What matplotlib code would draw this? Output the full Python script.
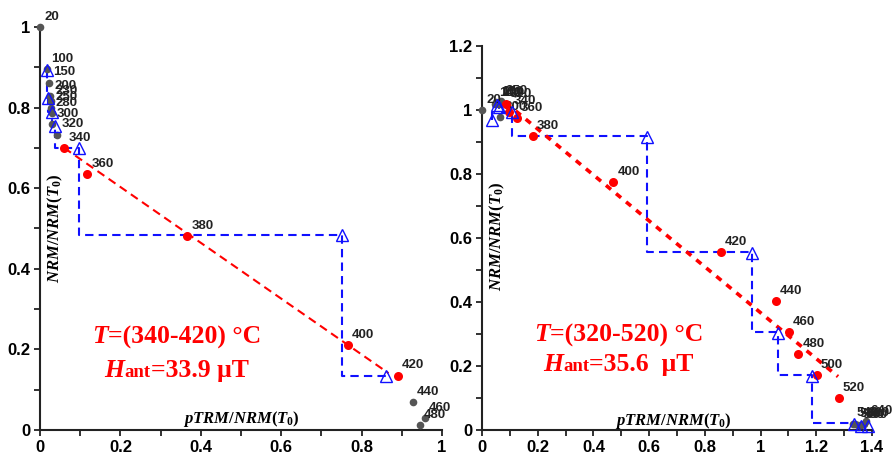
import matplotlib
matplotlib.use("Agg")
import matplotlib.pyplot as plt
from matplotlib.offsetbox import TextArea, HPacker, AnnotationBbox
from matplotlib.ticker import MultipleLocator, FuncFormatter

plt.rcParams['mathtext.fontset'] = 'custom'
plt.rcParams['mathtext.it'] = 'Liberation Serif:italic:bold'
plt.rcParams['mathtext.rm'] = 'Liberation Serif:bold'
plt.rcParams['mathtext.bf'] = 'Liberation Serif:bold'

# ---- Sample A (340-420 °C fit) ----
a_gray_T = [20, 100, 150, 200, 230, 250, 280, 300, 320, 440, 460, 480]
a_gray_x = [0.0, 0.017, 0.022, 0.026, 0.027, 0.028, 0.029, 0.031, 0.043, 0.928, 0.957, 0.945]
a_gray_y = [1.0, 0.895, 0.862, 0.829, 0.816, 0.800, 0.787, 0.760, 0.733, 0.069, 0.030, 0.012]
a_fit_T = [340, 360, 380, 400, 420]
a_fit_x = [0.060, 0.118, 0.366, 0.765, 0.890]
a_fit_y = [0.700, 0.635, 0.482, 0.211, 0.135]
a_chk_x = [0.017, 0.021, 0.029, 0.0375, 0.097, 0.750, 0.860]
a_chk_y = [0.893, 0.823, 0.790, 0.754, 0.699, 0.484, 0.134]
a_step_x = [0.017, 0.017, 0.021, 0.021, 0.029, 0.029, 0.0375, 0.0375, 0.097, 0.097, 0.750, 0.750, 0.860]
a_step_y = [0.893, 0.823, 0.823, 0.790, 0.790, 0.754, 0.754, 0.700, 0.700, 0.484, 0.484, 0.134, 0.134]
a_line_x = [0.060, 0.867]
a_line_y = [0.700, 0.141]

# ---- Sample B (320-520 °C fit) ----
b_gray_T = [20, 100, 150, 200, 250, 300, 540, 560, 580, 600, 620, 640]
b_gray_x = [0.0, 0.045, 0.052, 0.060, 0.068, 0.065, 1.330, 1.340, 1.350, 1.360, 1.370, 1.378]
b_gray_y = [1.0, 1.020, 1.025, 1.020, 1.028, 0.977, 0.020, 0.018, 0.015, 0.015, 0.020, 0.028]
b_fit_T = [320, 340, 360, 380, 400, 420, 440, 460, 480, 500, 520]
b_fit_x = [0.085, 0.097, 0.124, 0.182, 0.471, 0.858, 1.055, 1.101, 1.135, 1.201, 1.281]
b_fit_y = [1.019, 0.995, 0.974, 0.919, 0.774, 0.555, 0.403, 0.305, 0.236, 0.172, 0.099]
b_chk_x = [0.035, 0.053, 0.060, 0.107, 0.593, 0.968, 1.064, 1.183, 1.335, 1.360, 1.385]
b_chk_y = [0.970, 1.016, 1.010, 0.995, 0.917, 0.552, 0.302, 0.170, 0.018, 0.014, 0.014]
b_step_x = [0.035, 0.035, 0.060, 0.060, 0.107, 0.107, 0.593, 0.593, 0.968, 0.968, 1.064, 1.064, 1.183, 1.183, 1.335]
b_step_y = [0.970, 1.010, 1.010, 0.995, 0.995, 0.919, 0.919, 0.555, 0.555, 0.305, 0.305, 0.172, 0.172, 0.022, 0.022]
b_line_x = [0.085, 1.278]
b_line_y = [1.023, 0.167]

GRAY = '#555555'
RED = '#ff0000'
BLUE = '#1010ff'
SERIF = 'Liberation Serif'
SANS = 'Liberation Sans'

fig = plt.figure(figsize=(8.93, 4.55), dpi=100)
axA = fig.add_axes([40 / 893, 1 - 430 / 455, 402 / 893, 403 / 455])
axB = fig.add_axes([482 / 893, 1 - 430 / 455, 390 / 893, 384 / 455])


def style_axes(ax, xmax, ymax):
    ax.set_xlim(0, xmax)
    ax.set_ylim(0, ymax)
    for s in ('top', 'right'):
        ax.spines[s].set_visible(False)
    for s in ('left', 'bottom'):
        ax.spines[s].set_linewidth(1.5)
        ax.spines[s].set_color('#222222')
    ax.xaxis.set_major_locator(MultipleLocator(0.2))
    ax.yaxis.set_major_locator(MultipleLocator(0.2))
    ax.xaxis.set_minor_locator(MultipleLocator(0.1))
    ax.yaxis.set_minor_locator(MultipleLocator(0.1))
    fmt = FuncFormatter(lambda v, p: '%g' % round(v, 2))
    ax.xaxis.set_major_formatter(fmt)
    ax.yaxis.set_major_formatter(fmt)
    ax.tick_params(which='both', direction='out', length=4, width=1.3, color='#222222')
    ax.tick_params(which='major', labelsize=12, pad=3)
    for lab in ax.get_xticklabels() + ax.get_yticklabels():
        lab.set_fontfamily(SANS)
        lab.set_fontweight('bold')


def label_points(ax, xs, ys, ts):
    for x, y, t in zip(xs, ys, ts):
        ax.annotate(str(t), (x, y), xytext=(3.0, 3.0), textcoords='offset points',
                    ha='left', va='bottom', fontsize=9.5, fontweight='bold',
                    fontfamily=SANS, color='#222222', annotation_clip=False)


def draw_panel(ax, gx, gy, gT, fx, fy, fT, cx, cy, sx, sy, lx, ly, line_style):
    ax.plot(sx, sy, color=BLUE, lw=1.5, ls=(0, (4, 2.5)), zorder=2, clip_on=False)
    ax.plot(lx, ly, color=RED, zorder=2, clip_on=False, **line_style)
    ax.plot(gx, gy, 'o', color=GRAY, ms=5.5, mec='none', zorder=3, clip_on=False)
    ax.plot(fx, fy, 'o', color=RED, ms=6.5, mec='none', zorder=4, clip_on=False)
    ax.plot(cx, cy, '^', mfc='none', mec=BLUE, mew=1.0, ms=8, zorder=5, clip_on=False)
    label_points(ax, gx, gy, gT)
    label_points(ax, fx, fy, fT)


def result_box(ax, x, y, trange, hval):
    red_b = dict(color=RED, fontfamily=SERIF, fontweight='bold', fontsize=18.5)
    red_bi = dict(color=RED, fontfamily=SERIF, fontweight='bold', fontstyle='italic', fontsize=18.5)
    red_s = dict(color=RED, fontfamily=SERIF, fontweight='bold', fontsize=13.5)
    row1 = HPacker(children=[TextArea('T', textprops=red_bi),
                             TextArea('=(' + trange + ') °C', textprops=red_b)],
                   align='baseline', pad=0, sep=0)
    row2 = HPacker(children=[TextArea('H', textprops=red_bi),
                             TextArea('ant', textprops=red_s),
                             TextArea('=' + hval + ' μT', textprops=red_b)],
                   align='baseline', pad=0, sep=0)
    for row, yy in ((row1, y[0]), (row2, y[1])):
        ab = AnnotationBbox(row, (x, yy), xycoords='data', frameon=False,
                            box_alignment=(0.5, 0.5), pad=0)
        ax.add_artist(ab)


axis_font = dict(fontsize=12)

style_axes(axA, 1.0, 1.0)
draw_panel(axA, a_gray_x, a_gray_y, a_gray_T, a_fit_x, a_fit_y, a_fit_T,
           a_chk_x, a_chk_y, a_step_x, a_step_y, a_line_x, a_line_y,
           dict(lw=1.5, ls=(0, (4, 2.5))))
axA.text(0.5, 0.027, r'$pTRM/NRM(T_0)$', ha='center', va='center', **axis_font)
axA.text(0.0375, 0.50, r'$NRM/NRM(T_0)$', rotation=90, ha='center', va='center', **axis_font)
result_box(axA, 0.34, (0.231, 0.147), '340-420', '33.9')

style_axes(axB, 1.4, 1.2)
draw_panel(axB, b_gray_x, b_gray_y, b_gray_T, b_fit_x, b_fit_y, b_fit_T,
           b_chk_x, b_chk_y, b_step_x, b_step_y, b_line_x, b_line_y,
           dict(lw=2.6, ls=(0, (1.8, 1.8))))
axB.text(0.686, 0.028, r'$pTRM/NRM(T_0)$', ha='center', va='center', **axis_font)
axB.text(0.054, 0.606, r'$NRM/NRM(T_0)$', rotation=90, ha='center', va='center', **axis_font)
result_box(axB, 0.49, (0.297, 0.205), '320-520', '35.6 ')

fig.savefig('out.png', dpi=100)
